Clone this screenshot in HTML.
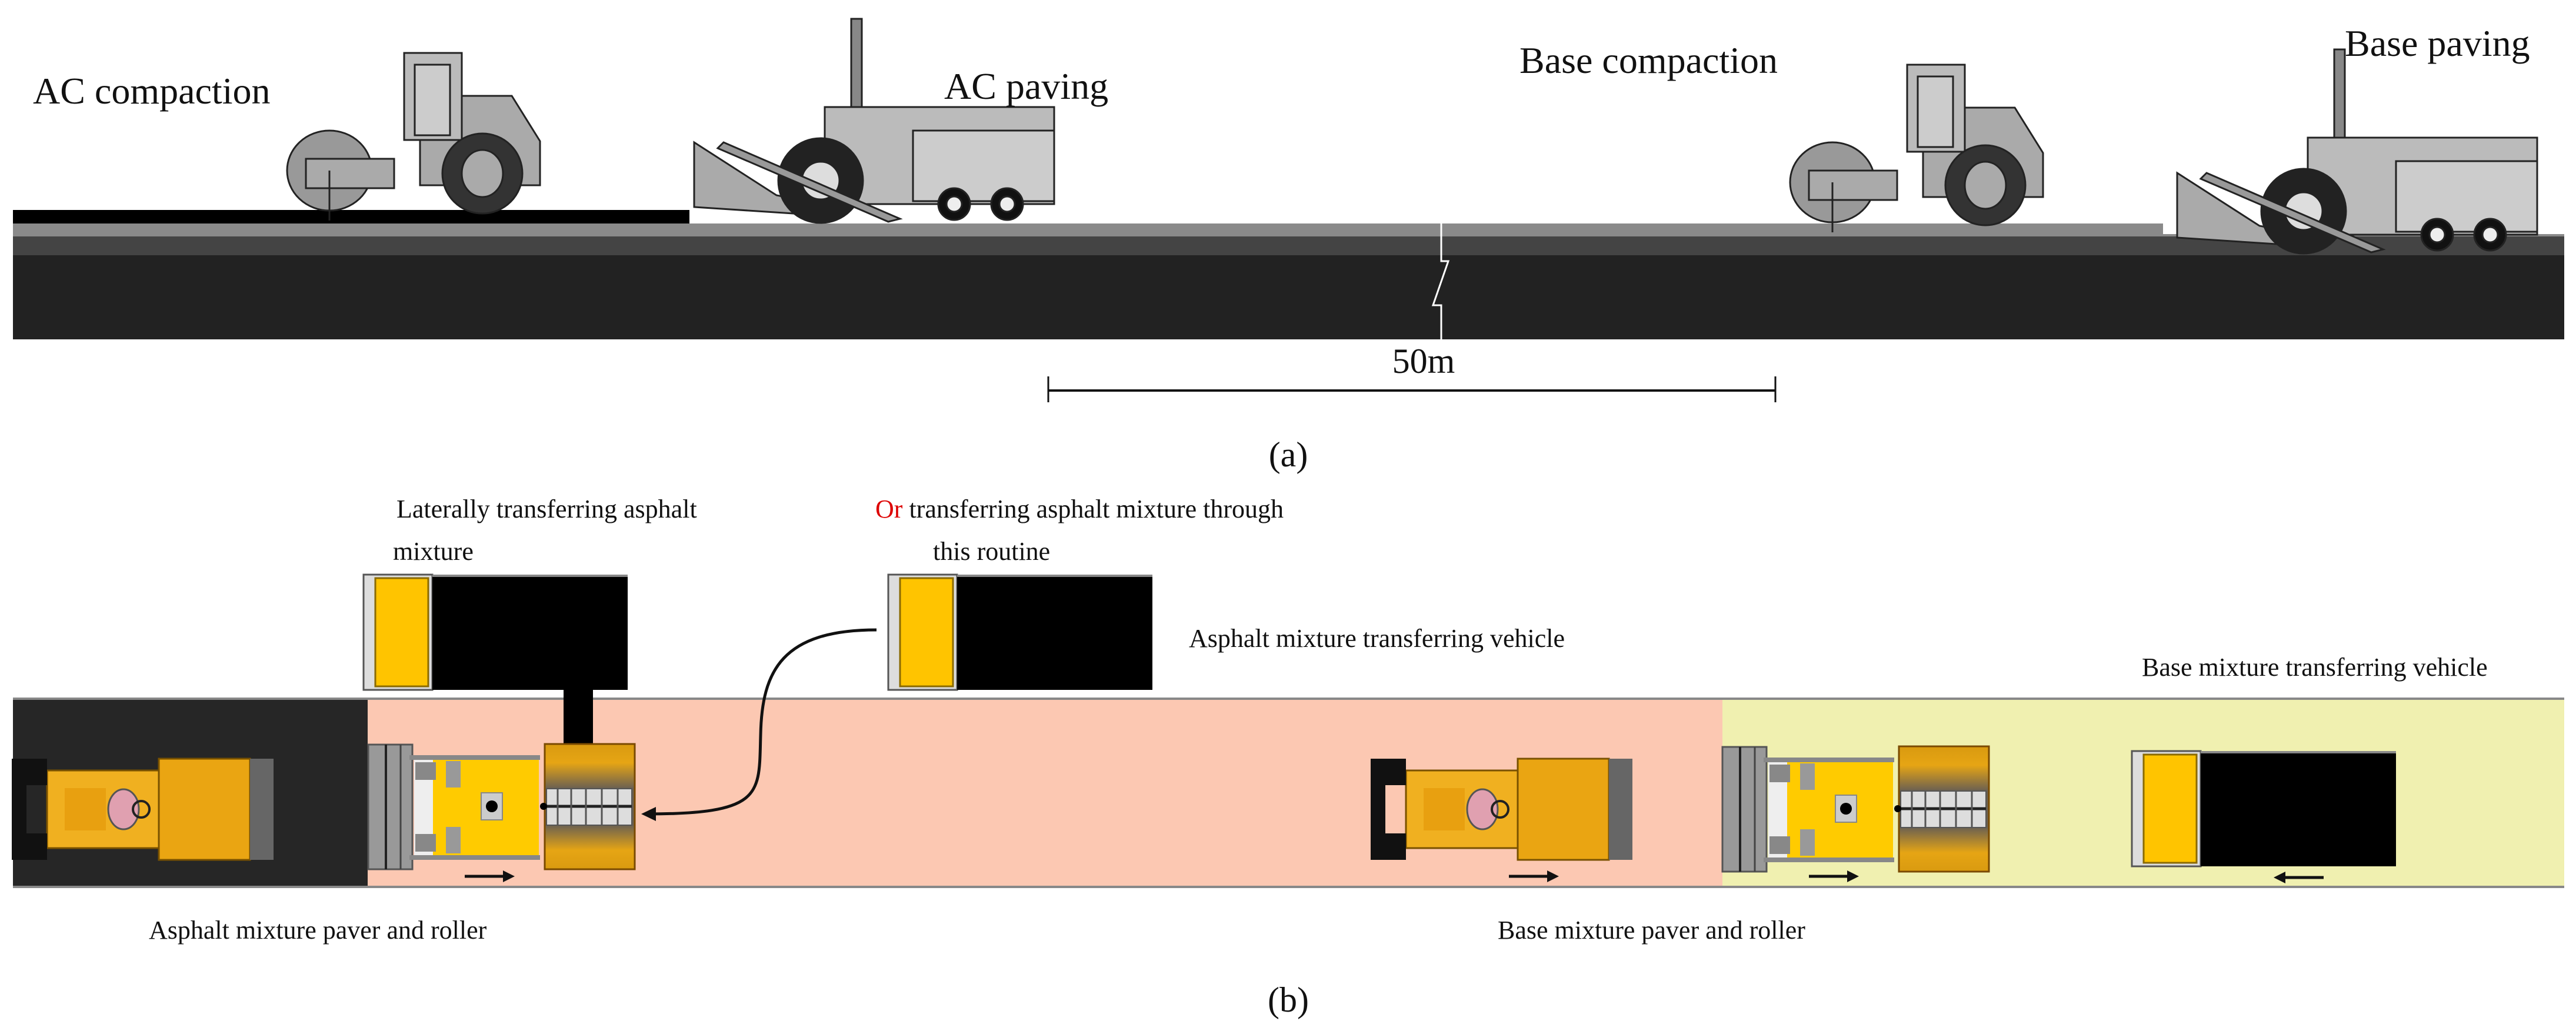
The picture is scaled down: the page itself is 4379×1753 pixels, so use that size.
<!DOCTYPE html>
<html><head><meta charset="utf-8"><style>
html,body{margin:0;padding:0;background:#fff}
svg{display:block}
text{font-family:"Liberation Serif",serif;fill:#111}
</style></head><body>
<svg width="4379" height="1753" viewBox="0 0 4379 1753" xmlns="http://www.w3.org/2000/svg">
<defs>
<linearGradient id="hop" x1="0" y1="0" x2="0" y2="1">
<stop offset="0" stop-color="#d99a10"/><stop offset="0.15" stop-color="#e6a514"/><stop offset="0.35" stop-color="#6e6250"/><stop offset="0.65" stop-color="#6e6250"/><stop offset="0.85" stop-color="#e6a514"/><stop offset="1" stop-color="#d99a10"/>
</linearGradient>
<g id="roller">
 <rect x="0" y="0" width="155" height="172" fill="#eaa512" stroke="#7a5200" stroke-width="3"/>
 <rect x="155" y="0" width="40" height="172" fill="#666"/>
 <rect x="-190" y="20" width="190" height="132" fill="#f0b020" stroke="#7a5200" stroke-width="3"/>
 <rect x="-160" y="50" width="70" height="72" fill="#e8a010"/>
 <ellipse cx="-60" cy="86" rx="26" ry="34" fill="#e0a0b0" stroke="#555" stroke-width="3"/>
 <circle cx="-30" cy="86" r="14" fill="none" stroke="#222" stroke-width="4"/>
 <rect x="-250" y="0" width="60" height="45" fill="#111"/>
 <rect x="-250" y="127" width="60" height="45" fill="#111"/>
 <rect x="-250" y="45" width="25" height="82" fill="#111"/>
</g>
<g id="paver">
 <rect x="0" y="0" width="75" height="212" fill="#999" stroke="#555" stroke-width="3"/>
 <line x1="30" y1="0" x2="30" y2="212" stroke="#222" stroke-width="4"/>
 <line x1="55" y1="0" x2="55" y2="212" stroke="#444" stroke-width="3"/>
 <rect x="78" y="20" width="40" height="170" fill="#eee"/>
 <rect x="70" y="18" width="222" height="8" fill="#888"/>
 <rect x="70" y="188" width="222" height="8" fill="#888"/>
 <rect x="110" y="26" width="180" height="162" fill="#ffcb00"/>
 <rect x="80" y="30" width="35" height="30" fill="#888"/>
 <rect x="80" y="152" width="35" height="30" fill="#888"/>
 <rect x="132" y="28" width="25" height="45" fill="#999"/>
 <rect x="132" y="140" width="25" height="45" fill="#999"/>
 <rect x="192" y="82" width="36" height="46" fill="#ccc" stroke="#888" stroke-width="2"/>
 <circle cx="210" cy="105" r="10" fill="#000"/>
 <rect x="300" y="-1" width="153" height="213" fill="url(#hop)" stroke="#7a4a00" stroke-width="3"/>
 <rect x="303" y="75" width="145" height="62" fill="#ddd" stroke="#555" stroke-width="2"/>
 <line x1="303" y1="105" x2="448" y2="105" stroke="#222" stroke-width="5"/>
 <g stroke="#555" stroke-width="3"><line x1="322" y1="75" x2="322" y2="137"/><line x1="345" y1="75" x2="345" y2="137"/><line x1="370" y1="75" x2="370" y2="137"/><line x1="397" y1="75" x2="397" y2="137"/><line x1="424" y1="75" x2="424" y2="137"/></g>
 <circle cx="298" cy="105" r="6" fill="#000"/>
</g>
<g id="truck">
 <rect x="0" y="0" width="117" height="196" fill="#ddd" stroke="#555" stroke-width="3"/>
 <rect x="20" y="6" width="90" height="184" fill="#ffc400" stroke="#8a6a00" stroke-width="3"/>
 <rect x="117" y="0" width="332" height="196" fill="#000"/>
 <rect x="117" y="0" width="332" height="4" fill="#888"/>
</g>
<g id="rol_side" fill="#aaa" stroke="#222" stroke-width="3">
 <path d="M84 73 L240 73 L288 150 L288 225 L84 225 Z"/>
 <rect x="57" y="0" width="98" height="148" fill="#bbb"/>
 <rect x="75" y="20" width="60" height="120" fill="#ccc"/>
 <ellipse cx="-70" cy="200" rx="72" ry="68" fill="#999"/>
 <rect x="-110" y="180" width="150" height="50" fill="#aaa"/>
 <ellipse cx="190" cy="205" rx="68" ry="68" fill="#333"/>
 <ellipse cx="190" cy="205" rx="35" ry="40" fill="#aaa"/>
 <line x1="-70" y1="200" x2="-70" y2="285"/>
</g>
<g id="pav_side" stroke="#222" stroke-width="3">
 <rect x="157" y="-150" width="18" height="150" fill="#888"/>
 <rect x="112" y="0" width="390" height="165" fill="#bbb"/>
 <rect x="262" y="40" width="240" height="120" fill="#ccc"/>
 <path d="M-110 60 L30 150 L130 170 L120 185 L-110 170 Z" fill="#aaa"/>
 <circle cx="105" cy="125" r="72" fill="#222"/>
 <circle cx="105" cy="125" r="32" fill="#ddd"/>
 <circle cx="332" cy="165" r="27" fill="#111"/><circle cx="332" cy="165" r="13" fill="#eee"/>
 <circle cx="422" cy="165" r="27" fill="#111"/><circle cx="422" cy="165" r="13" fill="#eee"/>
 <path d="M-60 60 L240 190 L220 195 L-70 70 Z" fill="#999"/>
</g>
</defs>

<!-- (a) road -->
<rect x="22" y="357" width="1150" height="23" fill="#000"/>
<rect x="22" y="380" width="4337" height="22" fill="#8a8a8a"/>
<rect x="3677" y="380" width="682" height="22" fill="#fff"/>
<rect x="3677" y="398" width="682" height="4" fill="#8a8a8a"/>
<rect x="22" y="402" width="4337" height="32" fill="#444"/>
<rect x="22" y="434" width="4337" height="143" fill="#222"/>
<polyline points="2450,370 2450,444 2462,444 2436,519 2450,519 2450,577" fill="none" stroke="#fff" stroke-width="3"/>

<use href="#rol_side" x="630" y="90"/>
<use href="#pav_side" x="1290" y="182"/>
<use href="#rol_side" x="3185" y="110"/>
<use href="#pav_side" x="3811" y="234"/>

<text x="56" y="176" font-size="64">AC compaction</text>
<text x="1605" y="168" font-size="64">AC paving</text>
<text x="2583" y="124" font-size="64">Base compaction</text>
<text x="3986" y="95" font-size="64">Base paving</text>
<text x="2420" y="634" font-size="60" text-anchor="middle">50m</text>
<line x1="1782" y1="664" x2="3018" y2="664" stroke="#111" stroke-width="4"/>
<line x1="1782" y1="640" x2="1782" y2="684" stroke="#111" stroke-width="3"/>
<line x1="3018" y1="640" x2="3018" y2="684" stroke="#111" stroke-width="3"/>
<text x="2190" y="793" font-size="60" text-anchor="middle">(a)</text>

<!-- (b) -->
<text x="674" y="880" font-size="44">Laterally transferring asphalt</text>
<text x="668" y="952" font-size="44">mixture</text>
<text x="1488" y="880" font-size="44"><tspan fill="#d00">Or</tspan> transferring asphalt mixture through</text>
<text x="1586" y="952" font-size="44">this routine</text>
<text x="2021" y="1100" font-size="44">Asphalt mixture transferring vehicle</text>
<text x="3641" y="1149" font-size="44">Base mixture transferring vehicle</text>

<rect x="22" y="1188" width="4337" height="320" fill="#fcc8b2"/>
<rect x="22" y="1188" width="603" height="320" fill="#262626"/>
<rect x="2928" y="1188" width="1431" height="320" fill="#f0f0b0"/>
<line x1="22" y1="1188" x2="4359" y2="1188" stroke="#888" stroke-width="4"/>
<line x1="22" y1="1508" x2="4359" y2="1508" stroke="#888" stroke-width="4"/>

<use href="#truck" x="618" y="977"/>
<use href="#truck" x="1510" y="977"/>
<use href="#truck" x="3624" y="1277"/>
<rect x="958" y="1173" width="50" height="93" fill="#000"/>

<use href="#paver" x="626" y="1266"/>
<use href="#paver" x="2928" y="1270"/>
<use href="#roller" x="270" y="1290"/>
<use href="#roller" x="2580" y="1290"/>

<path d="M1490 1071 C1330 1071 1295 1140 1293 1250 C1290 1350 1300 1384 1100 1384" fill="none" stroke="#111" stroke-width="5"/>
<path d="M1090 1384 L1115 1372 L1115 1396 Z" fill="#111"/>

<g stroke="#111" stroke-width="5">
<line x1="790" y1="1490" x2="860" y2="1490"/><line x1="2565" y1="1490" x2="2635" y2="1490"/><line x1="3075" y1="1490" x2="3145" y2="1490"/><line x1="3880" y1="1492" x2="3950" y2="1492"/>
</g>
<g fill="#111">
<path d="M875 1490 L855 1480 L855 1500Z"/><path d="M2650 1490 L2630 1480 L2630 1500Z"/><path d="M3160 1490 L3140 1480 L3140 1500Z"/><path d="M3865 1492 L3885 1482 L3885 1502Z"/>
</g>

<text x="253" y="1596" font-size="44">Asphalt mixture paver and roller</text>
<text x="2546" y="1596" font-size="44">Base mixture paver and roller</text>
<text x="2190" y="1720" font-size="60" text-anchor="middle">(b)</text>
</svg>
</body></html>
